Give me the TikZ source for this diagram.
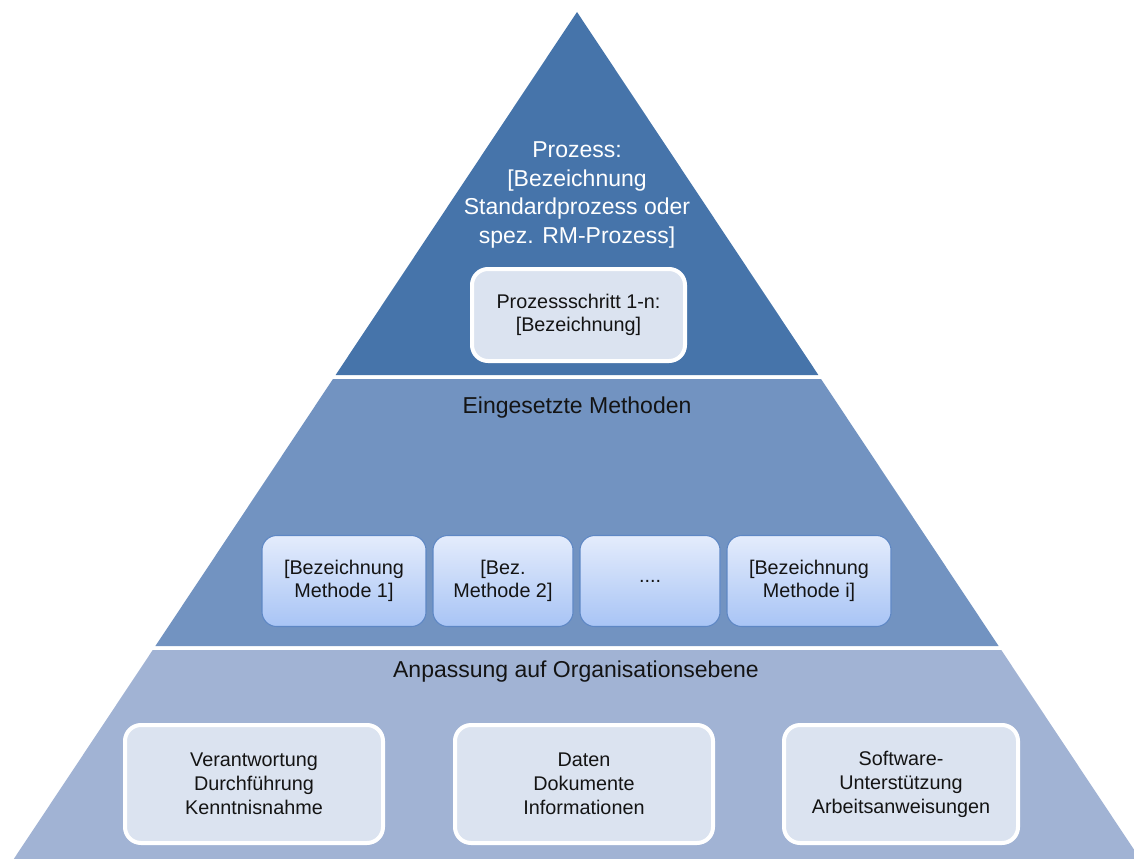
\documentclass[tikz,border=0pt]{standalone}
\usepackage{fontspec}
\setmainfont{Liberation Sans}
\definecolor{toplayer}{HTML}{4674AA}
\definecolor{midlayer}{HTML}{7293C1}
\definecolor{baselayer}{HTML}{A1B3D4}
\definecolor{boxfill}{HTML}{DBE3F0}
\definecolor{methtop}{HTML}{E4ECFC}
\definecolor{methbot}{HTML}{A8C4F5}
\definecolor{methline}{HTML}{5E87C4}
\definecolor{ink}{HTML}{141414}

\tikzset{
  stepbox/.style={draw=white,line width=3pt,fill=boxfill,rounded corners=12pt,
    text=ink,align=center,inner sep=0pt,font=\fontsize{14.85}{18}\selectfont},
  methbox/.style={draw=methline,line width=0.8pt,top color=methtop,bottom color=methbot,
    rounded corners=11pt,text=ink,align=center,inner sep=0pt,
    minimum height=68.25pt,font=\fontsize{14.85}{17.4}\selectfont},
  heading/.style={text=ink,align=center,font=\fontsize{17.25}{21.75}\selectfont}
}

\begin{document}
\begin{tikzpicture}[x=0.75pt,y=-0.75pt]
  % picture measured in pixels of the 1134 x 859 original
  \clip (0,0) rectangle (1134,859);
  \pgfmathsetmacro{\slope}{0.665}
  \pgfmathsetmacro{\hA}{\slope*(375-12)}
  \pgfmathsetmacro{\hB}{\slope*(379-12)}
  \pgfmathsetmacro{\hC}{\slope*(646-12)}
  \pgfmathsetmacro{\hD}{\slope*(650-12)}
  \pgfmathsetmacro{\hE}{\slope*(859-12)}

  % three layers of the pyramid
  \fill[toplayer] (577,12) -- ({577+\hA},375) -- ({577-\hA},375) -- cycle;
  \fill[midlayer] ({577-\hB},379) -- ({577+\hB},379) -- ({577+\hC},646) -- ({577-\hC},646) -- cycle;
  \fill[baselayer] ({577-\hD},650) -- ({577+\hD},650) -- ({577+\hE},859) -- ({577-\hE},859) -- cycle;

  % process
  \node[heading,text=white,font=\fontsize{17.25}{21.5}\selectfont] (proc) at (577,195)
    {Prozess:\\{[}Bezeichnung\\Standardprozess oder\\spez. RM-Prozess]};
  \node[stepbox,minimum width=159.75pt,minimum height=69pt,
    font=\fontsize{14.85}{17.25}\selectfont] (step) at (578.5,315)
    {Prozessschritt 1-n:\\{[}Bezeichnung]};

  % methods
  \node[heading] (meth) at (577,408) {Eingesetzte Methoden};
  \node[methbox,minimum width=123pt] (m1) at (344,581) {[Bezeichnung\\Methode 1]};
  \node[methbox,minimum width=105pt] (m2) at (503,581) {[Bez.\\Methode 2]};
  \node[methbox,minimum width=105pt] (m3) at (650,581) {....};
  \node[methbox,minimum width=123pt] (m4) at (809,581) {[Bezeichnung\\Methode i]};

  % organisation
  \node[heading] (org) at (576,672) {Anpassung auf Organisationsebene};
  \node[stepbox,minimum width=193.5pt,minimum height=88.5pt] (resp) at (254,784)
    {Verantwortung\\Durchführung\\Kenntnisnahme};
  \node[stepbox,minimum width=193.5pt,minimum height=88.5pt] (data) at (584,784)
    {Daten\\Dokumente\\Informationen};
  \node[stepbox,minimum width=175.5pt,minimum height=88.5pt] (soft) at (901,784)
    {Software-\\Unterstützung\\Arbeitsanweisungen};
\end{tikzpicture}
\end{document}
